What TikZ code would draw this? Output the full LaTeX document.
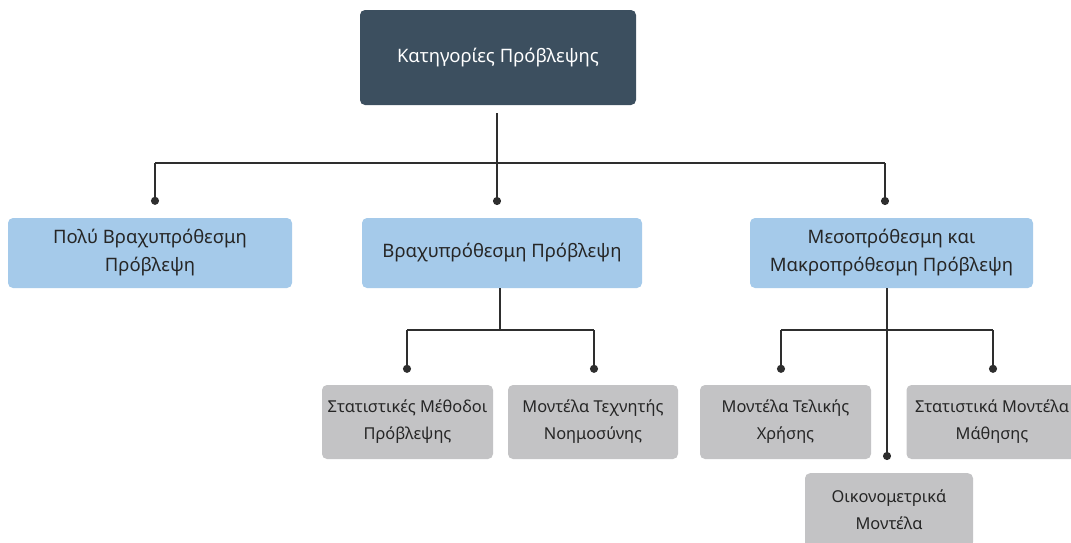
\documentclass[tikz,border=0pt]{standalone}
\usepackage{fontspec}
\setmainfont{Noto Sans}
\usetikzlibrary{arrows.meta}
\definecolor{topfill}{HTML}{3C4F5F}
\definecolor{bluefill}{HTML}{A5CAEA}
\definecolor{greyfill}{HTML}{C3C3C5}
\definecolor{linecol}{HTML}{2E2E2E}
\tikzset{
  box/.style={rounded corners=5pt, align=center, inner sep=0pt, font=\fontsize{18.5}{28}\selectfont, text=black!85},
  topbox/.style={box, fill=topfill, text=white, minimum width=276pt, minimum height=95pt},
  midbox/.style={box, fill=bluefill, minimum width=282pt, minimum height=70pt},
  leafbox/.style={box, fill=greyfill, minimum width=171pt, minimum height=74pt, font=\fontsize{16.4}{27}\selectfont},
  link/.style={draw=linecol, line width=1.8pt},
  dotlink/.style={link, -{Circle[length=8pt,width=8pt]}},
}
\begin{document}
\begin{tikzpicture}[x=1pt,y=-1pt]
\useasboundingbox (0,0) rectangle (1071,542);
\clip (0,0) rectangle (1071,542);

% root
\node[topbox] (top) at (498,57.5) {Κατηγορίες Πρόβλεψης};

% second level
\node[midbox, minimum width=284pt] (b1) at (150,253) {Πολύ Βραχυπρόθεσμη\\Πρόβλεψη};
\node[midbox, minimum width=280pt] (b2) at (502,253) {Βραχυπρόθεσμη Πρόβλεψη};
\node[midbox, minimum width=283pt] (b3) at (891.5,253) {Μεσοπρόθεσμη και\\Μακροπρόθεσμη Πρόβλεψη};

% leaves
\node[leafbox] (g1) at (407.5,422) {Στατιστικές Μέθοδοι\\Πρόβλεψης};
\node[leafbox, minimum width=170pt] (g2) at (593,422) {Μοντέλα Τεχνητής\\Νοημοσύνης};
\node[leafbox] (g3) at (785.5,422) {Μοντέλα Τελικής\\Χρήσης};
\node[leafbox] (g4) at (992,422) {Στατιστικά Μοντέλα\\Μάθησης};
\node[leafbox, minimum width=168pt, anchor=north] (g5) at (889,473) {Οικονομετρικά\\Μοντέλα};

% root to second level
\coordinate (r0) at ([yshift=-8pt]top.south -| 497,0);
\coordinate (rh) at (497,163);
\draw[link] (r0) -- (rh);
\draw[link] (155,163) -- (885,163);
\draw[dotlink] (155,163) -- ([yshift=13pt]b1.north -| 155,0);
\draw[dotlink] (rh) -- (497,205);
\draw[dotlink] (885,163) -- (885,205);

% short-term branch
\draw[link] (b2.south -| 500,0) -- (500,330);
\draw[link] (407,330) -- (594,330);
\draw[dotlink] (407,330) -- ([yshift=12pt]g1.north -| 407,0);
\draw[dotlink] (594,330) -- ([yshift=12pt]g2.north -| 594,0);

% medium and long-term branch
\draw[dotlink] (b3.south -| 887,0) -- ([yshift=13pt]g5.north -| 887,0);
\draw[link] (781,330) -- (993,330);
\draw[dotlink] (781,330) -- ([yshift=12pt]g3.north -| 781,0);
\draw[dotlink] (993,330) -- ([yshift=12pt]g4.north -| 993,0);
\end{tikzpicture}
\end{document}
